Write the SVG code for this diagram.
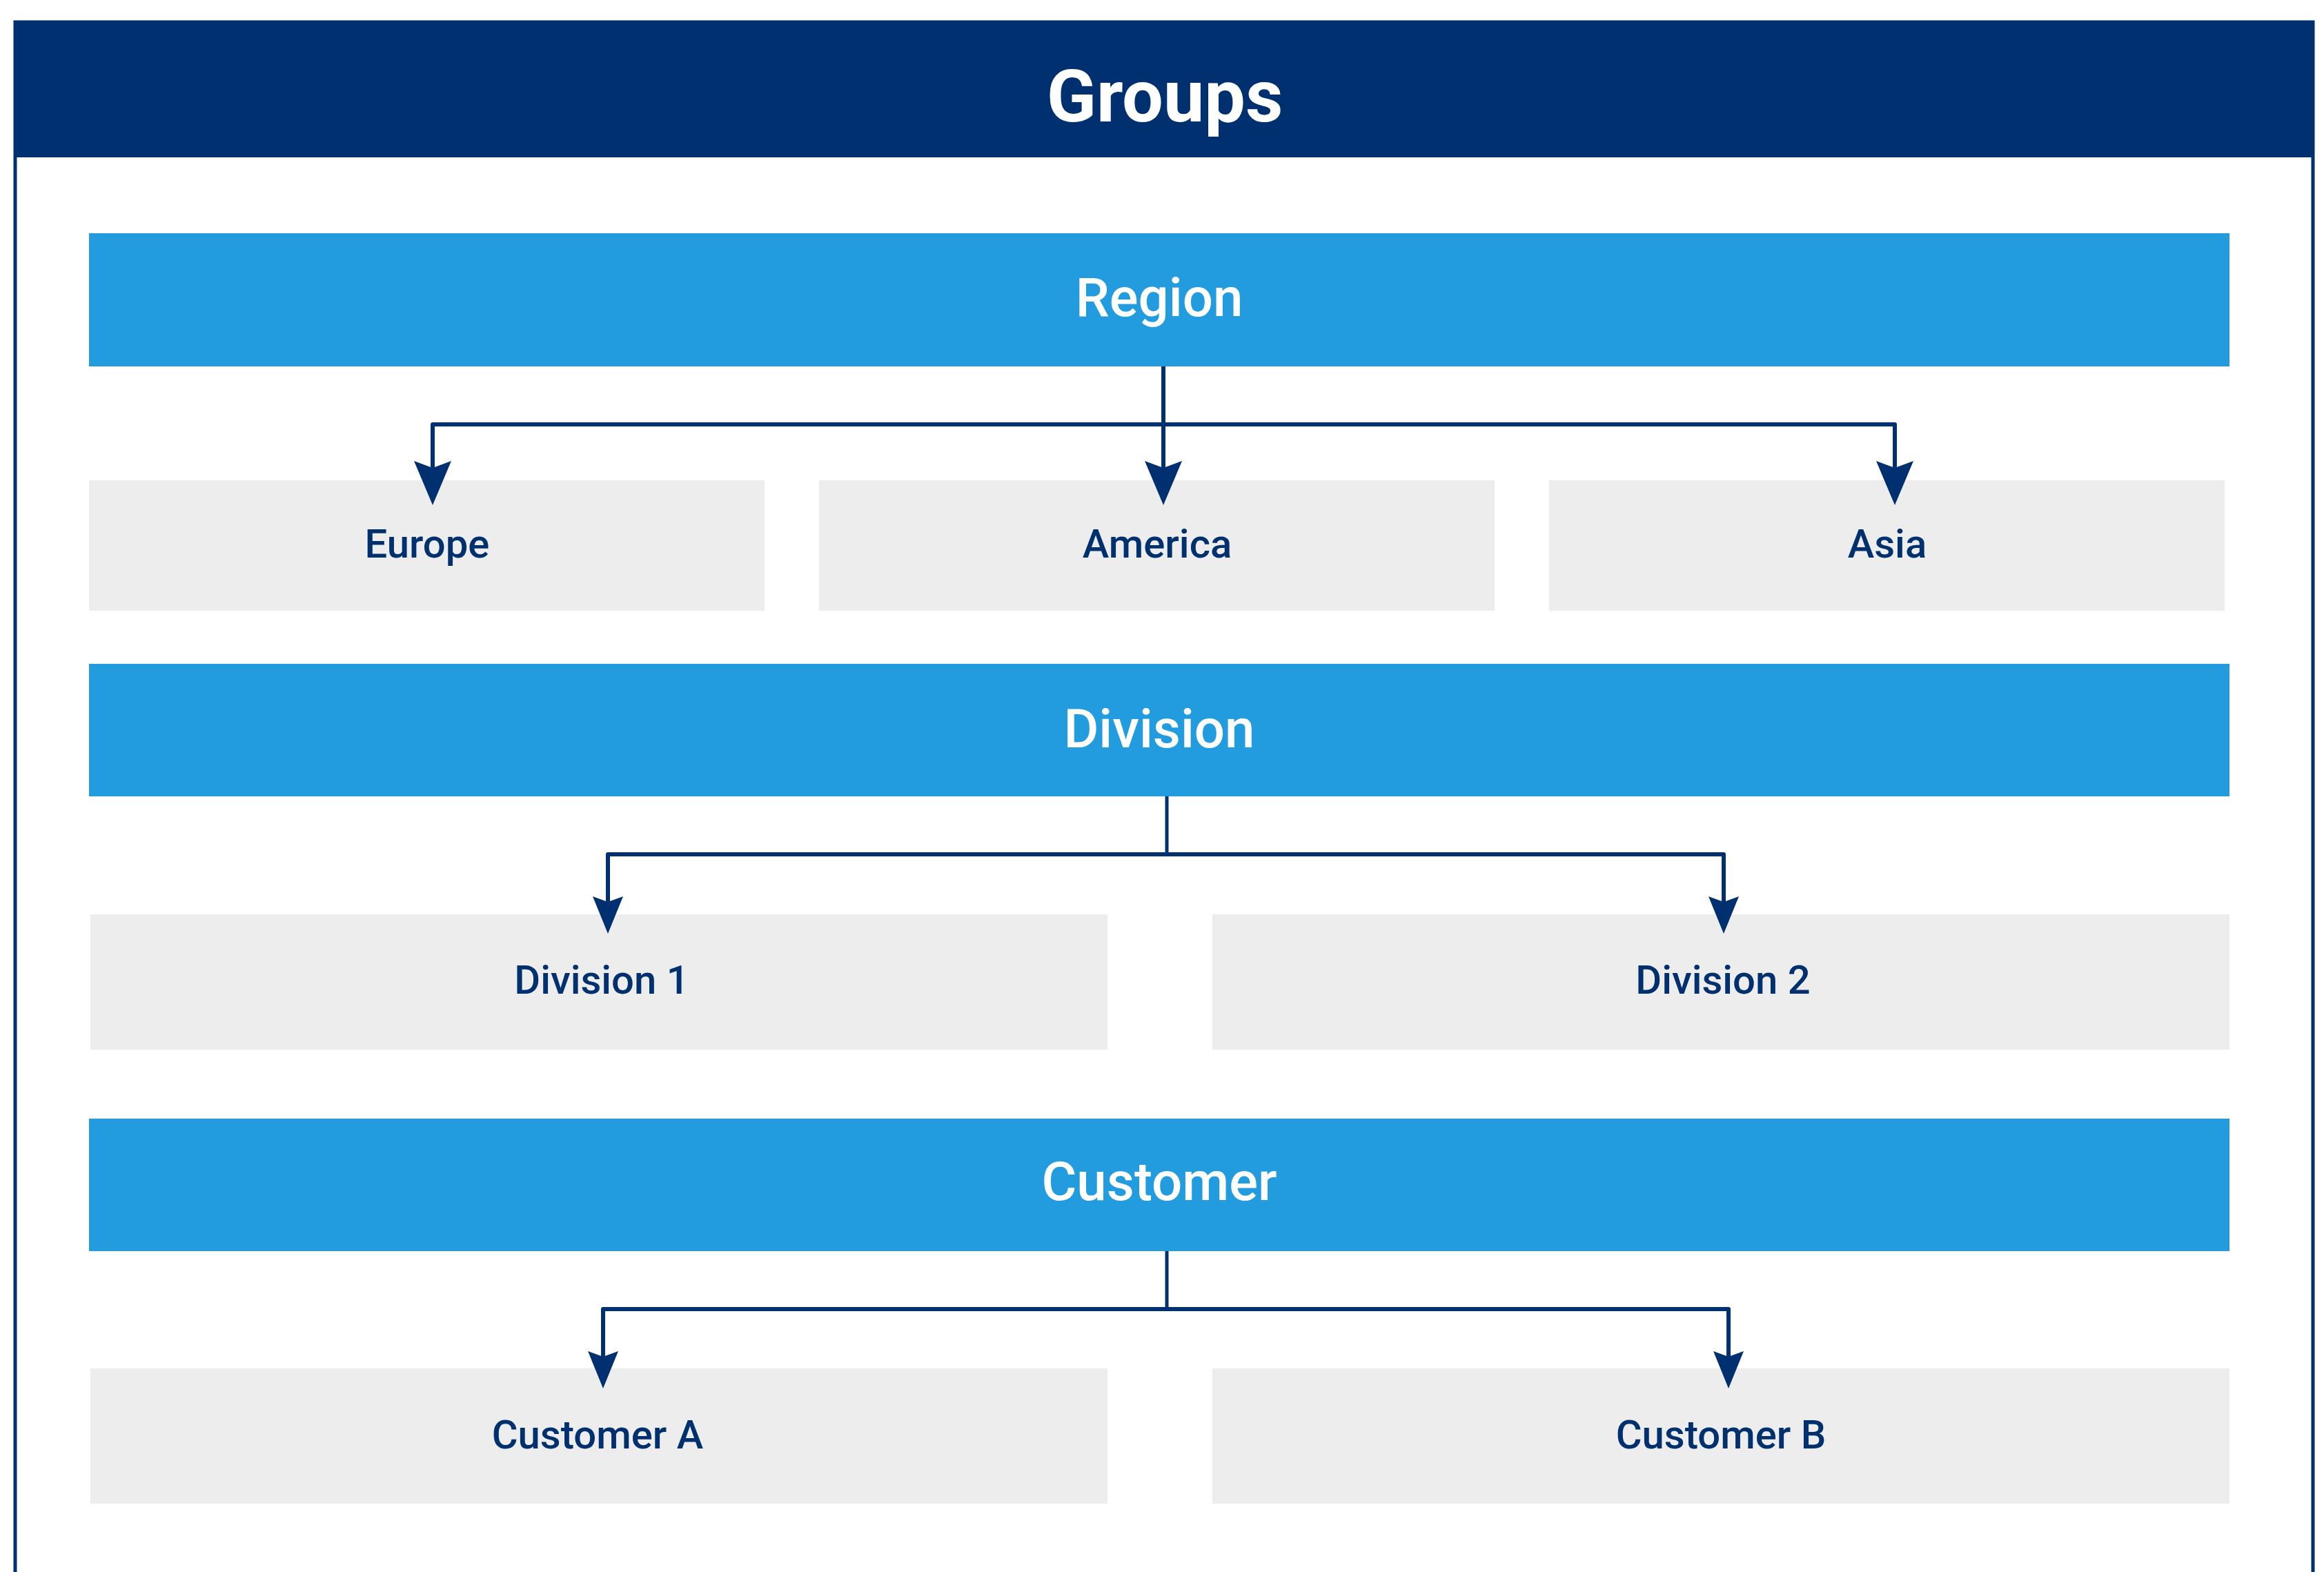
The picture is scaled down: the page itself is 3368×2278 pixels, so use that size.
<svg xmlns="http://www.w3.org/2000/svg" width="3368" height="2278" viewBox="0 0 3368 2278">
<style>
.frame{fill:#ffffff;stroke:#003070;stroke-width:5}
.title{fill:#003070}
.bar{fill:#229CDE}
.box{fill:#EDEDED}
.t{font-family:Roboto,"Liberation Sans",sans-serif;text-anchor:middle}
.tt{font-size:106px;font-weight:700;fill:#ffffff}
.ht{font-size:78px;font-weight:500;fill:#ffffff}
.bt{font-size:58px;font-weight:500;fill:#00306E}
.c{fill:none;stroke:#003070;stroke-width:6;stroke-linejoin:round}
</style>
<defs>
<marker id="arrL" markerUnits="userSpaceOnUse" markerWidth="70" markerHeight="60" refX="10" refY="27" orient="auto" viewBox="0 0 70 54">
<path d="M64,27 L0,0 L10,27 L0,54 Z" fill="#003070"/>
</marker>
<marker id="arrS" markerUnits="userSpaceOnUse" markerWidth="60" markerHeight="50" refX="8" refY="22" orient="auto" viewBox="0 0 60 44">
<path d="M54,22 L0,0 L8,22 L0,44 Z" fill="#003070"/>
</marker>
</defs>
<rect class="frame" x="22" y="32" width="3330" height="2300"/>
<g id="title">
<rect class="title" x="20" y="32" width="3334" height="196"/>
<text class="t tt" x="1688" y="176">Groups</text>
</g>
<g id="region">
<rect class="bar" x="129" y="338" width="3102" height="193"/>
<text class="t ht" x="1680" y="458">Region</text>
</g>
<g id="europe">
<rect class="box" x="129" y="696" width="979" height="189"/>
<text class="t bt" x="619" y="808">Europe</text>
</g>
<g id="america">
<rect class="box" x="1187" y="696" width="979" height="189"/>
<text class="t bt" x="1677" y="808">America</text>
</g>
<g id="asia">
<rect class="box" x="2245" y="696" width="979" height="189"/>
<text class="t bt" x="2735" y="808">Asia</text>
</g>
<g id="division">
<rect class="bar" x="129" y="962" width="3102" height="192"/>
<text class="t ht" x="1680" y="1083">Division</text>
</g>
<g id="division1">
<rect class="box" x="131" y="1325" width="1474" height="196"/>
<text class="t bt" x="872" y="1440">Division 1</text>
</g>
<g id="division2">
<rect class="box" x="1757" y="1325" width="1474" height="196"/>
<text class="t bt" x="2497" y="1440">Division 2</text>
</g>
<g id="customer">
<rect class="bar" x="129" y="1621" width="3102" height="192"/>
<text class="t ht" x="1680" y="1739">Customer</text>
</g>
<g id="customerA">
<rect class="box" x="131" y="1983" width="1474" height="196"/>
<text class="t bt" x="866" y="2099">Customer A</text>
</g>
<g id="customerB">
<rect class="box" x="1757" y="1983" width="1474" height="196"/>
<text class="t bt" x="2494" y="2099">Customer B</text>
</g>
<g id="connectors">
<path class="c" d="M1686,531 V678" marker-end="url(#arrL)"/>
<path class="c" d="M1686,615 H627 V678" marker-end="url(#arrL)"/>
<path class="c" d="M1686,615 H2746 V678" marker-end="url(#arrL)"/>
<path class="c" d="M1691,1154 V1238" style="stroke-width:5"/>
<path class="c" d="M1691,1238 H881 V1307" marker-end="url(#arrS)"/>
<path class="c" d="M1691,1238 H2498 V1307" marker-end="url(#arrS)"/>
<path class="c" d="M1691,1813 V1897" style="stroke-width:5"/>
<path class="c" d="M1691,1897 H874 V1966" marker-end="url(#arrS)"/>
<path class="c" d="M1691,1897 H2505 V1966" marker-end="url(#arrS)"/>
</g>
</svg>
